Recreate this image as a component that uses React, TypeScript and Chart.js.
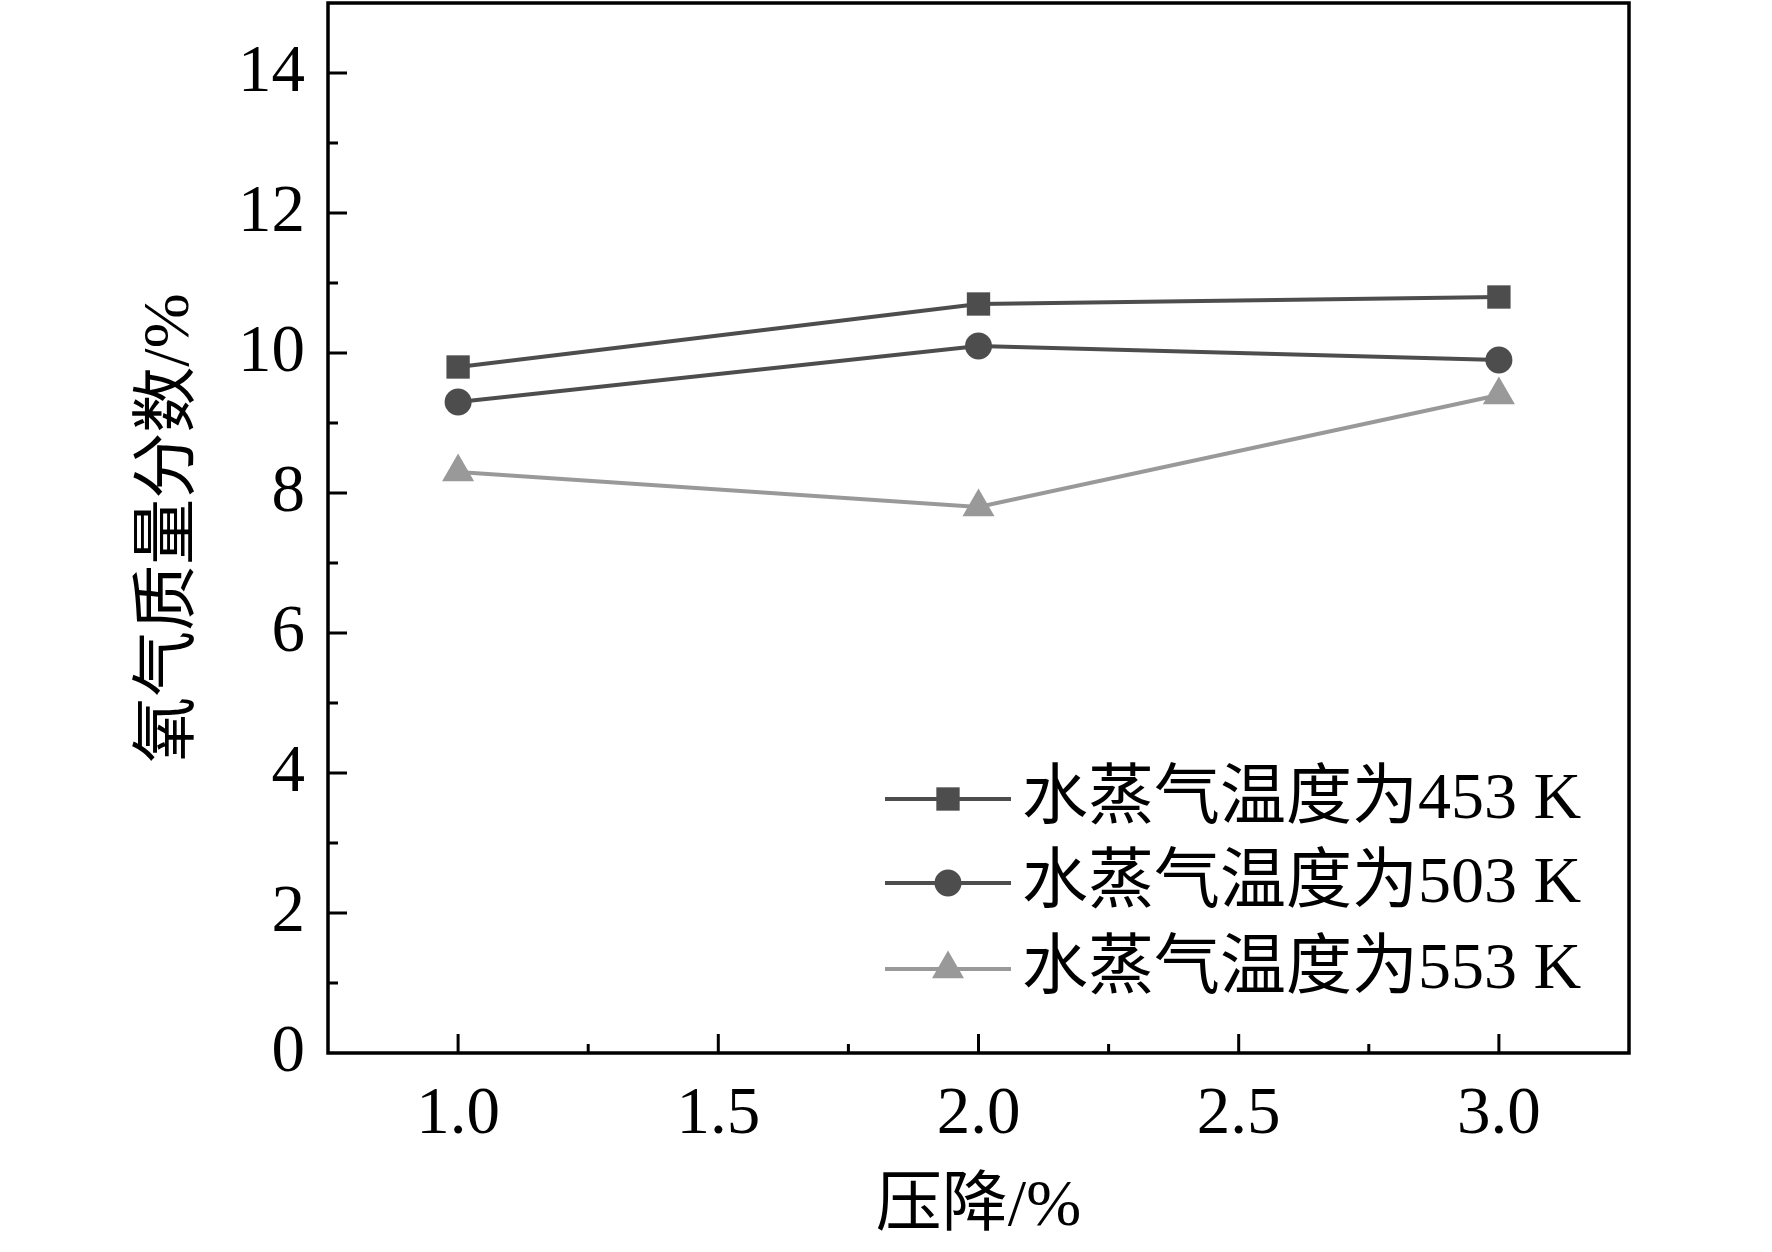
import React, { useEffect, useRef } from 'react';
import { Chart, registerables, Plugin } from 'chart.js';
import { drawPoint } from 'chart.js/helpers';

Chart.register(...registerables);

// 压降 (%) and oxygen mass fraction (%) for three steam temperatures
const pressureDrop = [1.0, 2.0, 3.0];
const o2At453K = [9.8, 10.7, 10.8];
const o2At503K = [9.3, 10.1, 9.9];
const o2At553K = [8.3, 7.8, 9.4];
const seriesLabels = ['水蒸气温度为453 K', '水蒸气温度为503 K', '水蒸气温度为553 K'];

const xTitle = '压降/%';
const yTitle = '氧气质量分数/%';

const DARK = '#4d4d4d';
const LIGHT = '#999999';
const SERIF = '"Liberation Serif", "Noto Sans CJK SC", serif';

const toPoints = (ys: number[]) => pressureDrop.map((x, i) => ({ x, y: ys[i] }));

// frame around the plot plus inward major / minor ticks
const framePlugin: Plugin<'line'> = {
  id: 'frame',
  afterDatasetsDraw(chart) {
    const { ctx, chartArea: a } = chart;
    const xs = chart.scales.x;
    const ys = chart.scales.y;
    ctx.save();
    ctx.strokeStyle = '#000';
    ctx.lineWidth = 3.5;
    ctx.strokeRect(a.left, a.top, a.right - a.left, a.bottom - a.top);
    ctx.lineWidth = 3;
    ctx.beginPath();
    xs.ticks.forEach(t => {
      const v = t.value;
      if (v <= xs.min || v >= xs.max) return;
      const major = Math.abs(v * 2 - Math.round(v * 2)) < 1e-6;
      const px = xs.getPixelForValue(v);
      ctx.moveTo(px, a.bottom);
      ctx.lineTo(px, a.bottom - (major ? 19 : 9));
    });
    ys.ticks.forEach(t => {
      const v = t.value;
      if (v <= ys.min || v >= ys.max) return;
      const major = Math.round(v) % 2 === 0;
      const py = ys.getPixelForValue(v);
      ctx.moveTo(a.left, py);
      ctx.lineTo(a.left + (major ? 19 : 10), py);
    });
    ctx.stroke();
    ctx.restore();
  },
};

// legend with line through marker, lower right of plot
const legendPlugin: Plugin<'line'> = {
  id: 'lineLegend',
  afterDraw(chart) {
    const { ctx } = chart;
    const rows = [799, 883, 969];
    const x0 = 885;
    const x1 = 1011;
    const xm = 948;
    ctx.save();
    chart.data.datasets.forEach((ds: any, i) => {
      const y = rows[i];
      ctx.strokeStyle = ds.borderColor;
      ctx.fillStyle = ds.backgroundColor;
      ctx.lineWidth = ds.borderWidth;
      ctx.beginPath();
      ctx.moveTo(x0, y);
      ctx.lineTo(x1, y);
      ctx.stroke();
      drawPoint(ctx, { pointStyle: ds.pointStyle, radius: ds.pointRadius, rotation: 0, borderWidth: 0 }, xm, y);
      ctx.fillStyle = '#000';
      ctx.font = `66px ${SERIF}`;
      ctx.textAlign = 'left';
      ctx.textBaseline = 'middle';
      ctx.fillText(ds.label, 1022, y + 2);
    });
    ctx.restore();
  },
};

const noPad = (s: any) => {
  s.paddingTop = 0;
  s.paddingBottom = 0;
  s.paddingLeft = 0;
  s.paddingRight = 0;
};

const OxygenChart: React.FC = () => {
  const canvasRef = useRef<HTMLCanvasElement | null>(null);

  useEffect(() => {
    if (!canvasRef.current) return;
    const ctx = canvasRef.current.getContext('2d');
    if (!ctx) return;

    const tickFont = { family: SERIF, size: 67 };
    const titleFont = { family: SERIF, size: 66 };

    const chart = new Chart(ctx, {
      type: 'line',
      data: {
        datasets: [
          {
            label: seriesLabels[0],
            data: toPoints(o2At453K),
            borderColor: DARK,
            backgroundColor: DARK,
            borderWidth: 4,
            pointStyle: 'rect',
            pointRadius: 16.5,
            pointBorderWidth: 0,
          },
          {
            label: seriesLabels[1],
            data: toPoints(o2At503K),
            borderColor: DARK,
            backgroundColor: DARK,
            borderWidth: 4,
            pointStyle: 'circle',
            pointRadius: 13.5,
            pointBorderWidth: 0,
          },
          {
            label: seriesLabels[2],
            data: toPoints(o2At553K),
            borderColor: LIGHT,
            backgroundColor: LIGHT,
            borderWidth: 4,
            pointStyle: 'triangle',
            pointRadius: 18.5,
            pointBorderWidth: 0,
          },
        ],
      },
      options: {
        animation: false,
        responsive: false,
        devicePixelRatio: 1,
        layout: { autoPadding: false, padding: { top: 3, right: 143, left: 0, bottom: 0 } },
        plugins: {
          legend: { display: false },
          tooltip: { enabled: false },
        },
        scales: {
          x: {
            type: 'linear',
            min: 0.75,
            max: 3.25,
            grid: { display: false, drawTicks: false },
            border: { display: false },
            ticks: {
              stepSize: 0.25,
              autoSkip: false,
              maxRotation: 0,
              padding: 22,
              color: '#000',
              font: tickFont,
              callback: (v: any) => {
                const n = Number(v);
                return Math.abs(n * 2 - Math.round(n * 2)) < 1e-6 && n > 0.75 && n < 3.25 ? n.toFixed(1) : '';
              },
            },
            title: { display: true, text: xTitle, color: '#000', font: titleFont, padding: { top: 0, bottom: 5 } },
            afterFit: (s: any) => {
              s.height = 199;
              noPad(s);
            },
          },
          y: {
            type: 'linear',
            min: 0,
            max: 15,
            grid: { display: false, drawTicks: false },
            border: { display: false },
            ticks: {
              stepSize: 1,
              autoSkip: false,
              padding: 23,
              color: '#000',
              font: tickFont,
              callback: (v: any) => (Number(v) % 2 === 0 ? String(v) : ''),
            },
            title: { display: true, text: yTitle, color: '#000', font: titleFont, padding: { top: 131, bottom: 0 } },
            afterFit: (s: any) => {
              s.width = 328;
              noPad(s);
            },
          },
        },
      },
      plugins: [framePlugin, legendPlugin],
    });

    return () => {
      chart.destroy();
    };
  }, []);

  return <canvas ref={canvasRef} width={1772} height={1252} style={{ width: 1772, height: 1252, display: 'block' }} />;
};

const App: React.FC = () => (
  <div style={{ position: 'absolute', left: 0, top: 0, width: 1772, height: 1252, background: '#fff' }}>
    <OxygenChart />
  </div>
);

export default App;
